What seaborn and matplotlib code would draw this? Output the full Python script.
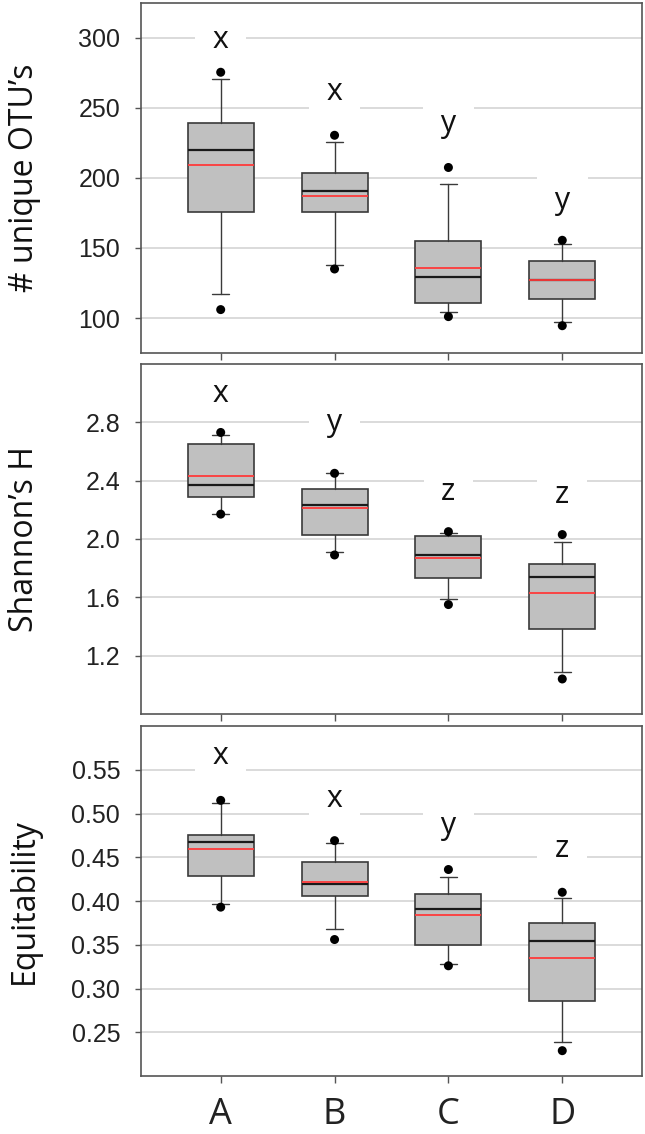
import matplotlib
matplotlib.use("Agg")
import matplotlib.pyplot as plt
import pandas as pd
import seaborn as sns

groups = ["A", "B", "C", "D"]

# number of unique OTUs: 5th, 10th, 25th, 50th, 75th, 90th, 95th percentiles and mean
otu_p05 = [106.0, 135.0, 101.0, 94.5]
otu_p10 = [117.0, 138.0, 104.0, 97.0]
otu_q1 = [176.0, 176.0, 111.0, 113.5]
otu_med = [220.0, 190.5, 129.0, 127.0]
otu_mean = [209.5, 187.0, 135.5, 127.0]
otu_q3 = [239.0, 203.5, 155.0, 141.0]
otu_p90 = [270.5, 226.0, 196.0, 152.5]
otu_p95 = [275.5, 230.5, 207.5, 155.5]
otu_letters = ["x", "x", "y", "y"]
otu_letter_y = [293.0, 255.5, 233.0, 178.0]

# Shannon's H
sh_p05 = [2.17, 1.89, 1.55, 1.04]
sh_p10 = [2.17, 1.91, 1.59, 1.09]
sh_q1 = [2.29, 2.03, 1.73, 1.38]
sh_med = [2.37, 2.23, 1.89, 1.74]
sh_mean = [2.43, 2.21, 1.87, 1.63]
sh_q3 = [2.65, 2.34, 2.02, 1.83]
sh_p90 = [2.71, 2.45, 2.04, 1.98]
sh_p95 = [2.73, 2.45, 2.05, 2.03]
sh_letters = ["x", "y", "z", "z"]
sh_letter_y = [2.94, 2.74, 2.27, 2.245]

# Equitability
eq_p05 = [0.393, 0.356, 0.326, 0.229]
eq_p10 = [0.397, 0.368, 0.328, 0.239]
eq_q1 = [0.429, 0.406, 0.350, 0.286]
eq_med = [0.468, 0.419, 0.391, 0.354]
eq_mean = [0.459, 0.422, 0.384, 0.335]
eq_q3 = [0.475, 0.445, 0.408, 0.375]
eq_p90 = [0.512, 0.466, 0.428, 0.404]
eq_p95 = [0.515, 0.469, 0.436, 0.410]
eq_letters = ["x", "x", "y", "z"]
eq_letter_y = [0.556, 0.507, 0.4765, 0.450]

panels = [
    ("# unique OTU\u2019s", [100, 150, 200, 250, 300], ["100", "150", "200", "250", "300"],
     (75, 325), otu_p05, otu_p10, otu_q1, otu_med, otu_mean, otu_q3, otu_p90, otu_p95,
     otu_letters, otu_letter_y),
    ("Shannon\u2019s H", [1.2, 1.6, 2.0, 2.4, 2.8], ["1.2", "1.6", "2.0", "2.4", "2.8"],
     (0.8, 3.2), sh_p05, sh_p10, sh_q1, sh_med, sh_mean, sh_q3, sh_p90, sh_p95,
     sh_letters, sh_letter_y),
    ("Equitability", [0.25, 0.30, 0.35, 0.40, 0.45, 0.50, 0.55],
     ["0.25", "0.30", "0.35", "0.40", "0.45", "0.50", "0.55"],
     (0.2, 0.6), eq_p05, eq_p10, eq_q1, eq_med, eq_mean, eq_q3, eq_p90, eq_p95,
     eq_letters, eq_letter_y),
]


def main() -> None:
    sns.set_theme(style="white")
    plt.rcParams["font.family"] = ["Liberation Sans", "DejaVu Sans"]

    fig = plt.figure(figsize=(6.45, 11.34), dpi=100)
    rects = [
        [0.2186, 0.6887, 0.7767, 0.3087],
        [0.2186, 0.3704, 0.7767, 0.3087],
        [0.2186, 0.0511, 0.7767, 0.3087],
    ]

    for i, (label, ticks, ticklabels, ylim, p05, p10, q1, med, mean, q3, p90, p95,
            letters, letter_y) in enumerate(panels):
        ax = fig.add_axes(rects[i])

        stats = []
        for j, g in enumerate(groups):
            stats.append({
                "label": g, "med": med[j], "q1": q1[j], "q3": q3[j],
                "whislo": p10[j], "whishi": p90[j], "mean": mean[j], "fliers": [],
            })
        ax.bxp(
            stats, positions=range(len(groups)), widths=0.58, capwidths=0.15,
            patch_artist=True, showfliers=False, showmeans=True, meanline=True,
            boxprops=dict(facecolor="#c0c0c0", edgecolor="#3a3a3a", linewidth=1.2),
            medianprops=dict(color="#1a1a1a", linewidth=1.6),
            meanprops=dict(color="#ff3b3b", linestyle="-", linewidth=1.3),
            whiskerprops=dict(color="#3a3a3a", linewidth=1.0),
            capprops=dict(color="#3a3a3a", linewidth=1.0),
        )

        # 5th / 95th percentile points
        dots = pd.DataFrame({
            "group": groups * 2,
            "value": list(p05) + list(p95),
        })
        sns.scatterplot(data=dots, x="group", y="value", color="black", s=42,
                        edgecolor="none", zorder=4, ax=ax, legend=False)

        # significance letters, white box hides the grid behind them
        for j, (lt, ly) in enumerate(zip(letters, letter_y)):
            ax.text(j, ly, " " + lt + " ", ha="center", va="baseline",
                    fontsize=22, family=["Open Sans", "DejaVu Sans"], color="#111111",
                    zorder=3,
                    bbox=dict(facecolor="white", edgecolor="none", pad=7))

        ax.set_xlim(-0.7, 3.7)
        ax.set_ylim(*ylim)
        ax.set_yticks(ticks)
        ax.set_yticklabels(ticklabels)
        ax.set_xticks(range(len(groups)))
        ax.grid(axis="y", color="#d8d8d8", linewidth=1.3)
        ax.grid(axis="x", visible=False)
        ax.set_axisbelow(True)

        for sp in ax.spines.values():
            sp.set_color("#555555")
            sp.set_linewidth(1.2)

        ax.tick_params(axis="y", left=True, length=4, width=1.0, color="#555555",
                       direction="out", pad=11, labelsize=18, labelcolor="#222222")
        ax.tick_params(axis="x", length=5, width=1.0, color="#555555", direction="out",
                       bottom=True, pad=10, labelsize=26, labelcolor="#222222")
        if i < 2:
            ax.set_xticklabels([])
        else:
            ax.set_xticklabels(groups, family=["Open Sans", "DejaVu Sans"])

        ax.set_xlabel("")
        ax.set_ylabel(label, fontsize=23, family=["Open Sans", "DejaVu Sans"],
                      color="#111111")
        ax.yaxis.set_label_coords(-0.2, 0.5)

    fig.savefig("out.png", dpi=100)
    plt.close(fig)


if __name__ == "__main__":
    main()
